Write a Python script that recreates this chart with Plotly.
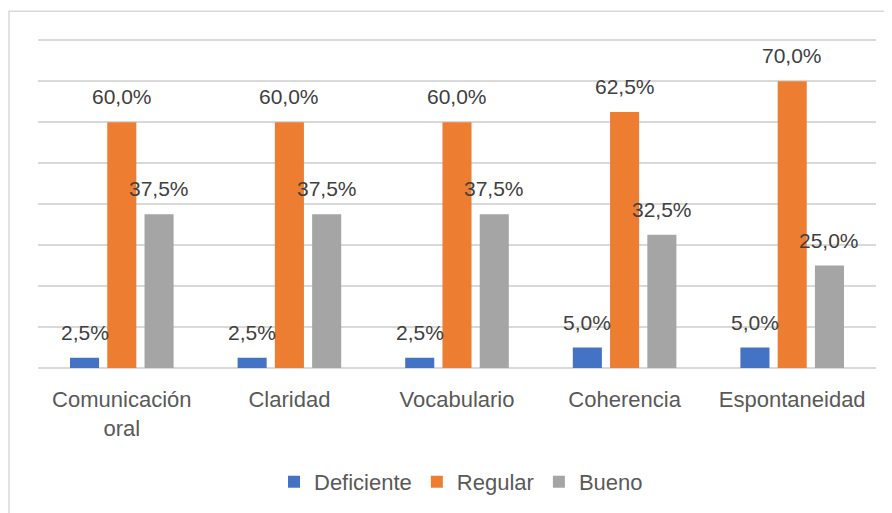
import plotly.graph_objects as go

categories = ["Comunicación<br>oral", "Claridad", "Vocabulario", "Coherencia", "Espontaneidad"]
deficiente = [0.025, 0.025, 0.025, 0.05, 0.05]
regular = [0.60, 0.60, 0.60, 0.625, 0.70]
bueno = [0.375, 0.375, 0.375, 0.325, 0.25]
series_names = ["Deficiente", "Regular", "Bueno"]
colors = ["#4472C4", "#ED7D31", "#A5A5A5"]

W, H = 892, 513
# screen geometry of plot area (page has an 8px body offset)
OFF = 8
YMAX = 0.82
BASE_Y = 368
PX_PER_UNIT = 328 / 0.8
SX0, PW = 38, 838
PH = PX_PER_UNIT * YMAX
SY0 = BASE_Y - PH
L, T = SX0 - OFF, SY0 - OFF
R = W - L - PW
B = H - T - PH
bargap = 0.333
bargroupgap = 0.22
slot = PW / len(categories) * (1 - bargap) / 3

FONT = "Liberation Sans"

fig = go.Figure()
series = [deficiente, regular, bueno]
for name, vals, col in zip(series_names, series, colors):
    fig.add_trace(go.Bar(
        x=categories, y=vals, name=name,
        marker=dict(color=col, line=dict(width=0)),
        hoverinfo="skip",
    ))

def fmt(v):
    return f"{v*100:.1f}".replace(".", ",") + "%"

for i, vals in enumerate(series):
    shift = (i - 1) * slot
    for c, v in zip(categories, vals):
        fig.add_annotation(
            x=c, y=v, xref="x", yref="y", text=fmt(v), showarrow=False,
            xanchor="center", yanchor="bottom", xshift=shift, yshift=12,
            font=dict(family=FONT, size=21, color="#404040"),
        )

fig.add_shape(type="rect", xref="paper", yref="paper",
              x0=(9 - SX0) / PW, x1=(W + 20 - SX0) / PW,
              y0=-(H + 20 - BASE_Y) / PH, y1=(BASE_Y - 11) / PH,
              line=dict(color="#D9D9D9", width=1.5), fillcolor="rgba(0,0,0,0)", layer="below")

fig.update_layout(
    width=W, height=H,
    margin=dict(l=L, r=R, t=T, b=B),
    paper_bgcolor="white", plot_bgcolor="white",
    barmode="group", bargap=bargap, bargroupgap=bargroupgap,
    font=dict(family=FONT, size=22, color="#595959"),
    showlegend=True,
    legend=dict(orientation="h", x=(461 - SX0) / PW, xanchor="center",
                y=-(482 - BASE_Y) / PH, yanchor="middle",
                font=dict(family=FONT, size=22, color="#595959"),
                traceorder="normal", itemwidth=30),
    xaxis=dict(showgrid=False, showline=False, ticks="", ticklabelstandoff=16,
               tickfont=dict(size=22, color="#595959")),
    yaxis=dict(range=[0, YMAX], tickvals=[0.1, 0.2, 0.3, 0.4, 0.5, 0.6, 0.7, 0.8],
               showgrid=True, gridcolor="#D9D9D9", gridwidth=1.5,
               showticklabels=False, zeroline=True, zerolinecolor="#D9D9D9", zerolinewidth=1.5,
               showline=False, ticks=""),
)

fig.write_html("out.html")
